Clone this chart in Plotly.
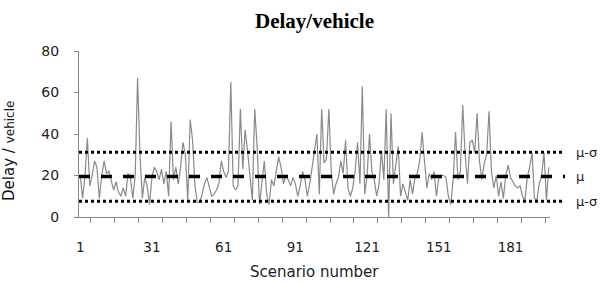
import plotly.graph_objects as go

# ---- data ----
delay = [
    20, 9, 20, 38, 15, 20, 27, 24, 9, 20,
    27, 21, 22, 18, 13, 17, 12, 10, 14, 10,
    21, 19, 9, 20, 67, 30, 9, 19, 15, 6,
    19, 24, 22, 18, 23, 16, 22, 10, 46, 18,
    24, 16, 24, 36, 30, 8, 47, 37, 15, 7,
    7, 11, 16, 19, 15, 10, 11, 13, 16, 27,
    22, 19, 22, 65, 15, 13, 15, 52, 23, 42,
    32, 20, 8, 52, 34, 6, 18, 27, 11, 6,
    18, 15, 22, 29, 24, 16, 20, 18, 15, 19,
    16, 10, 15, 22, 18, 10, 16, 24, 32, 40,
    11, 52, 26, 28, 52, 22, 11, 16, 19, 27,
    21, 37, 14, 10, 14, 22, 36, 16, 63, 11,
    20, 40, 22, 18, 10, 16, 32, 18, 52, 0,
    50, 16, 25, 34, 10, 16, 12, 8, 18, 11,
    19, 21, 27, 41, 27, 14, 21, 18, 22, 10,
    19, 20, 20, 19, 10, 6, 18, 41, 18, 22,
    54, 30, 16, 36, 37, 31, 50, 27, 18, 26,
    30, 51, 22, 14, 20, 10, 17, 9, 20, 25,
    19, 17, 15, 14, 15, 10, 8, 19, 24, 31,
    9, 8, 16, 20, 31, 8, 24,
]
scenario = list(range(1, len(delay) + 1))

mu = 19.5
upper = 31.2
lower = 7.6
ref_labels = ["μ-σ", "μ", "μ-σ"]
ref_values = [upper, mu, lower]
ref_dash = ["3px,3px", "11px,11px", "3px,3px"]

x_tick_vals = [1, 31, 61, 91, 121, 151, 181]
y_tick_vals = [0, 20, 40, 60, 80]

FONT = "DejaVu Sans"

# ---- figure ----
fig = go.Figure()
fig.add_trace(go.Scatter(
    x=scenario, y=delay, mode="lines",
    line=dict(color="#8a8a8a", width=1.2),
    hoverinfo="skip", showlegend=False,
))

for val, lab, dash in zip(ref_values, ref_labels, ref_dash):
    fig.add_shape(type="line", xref="paper", x0=0, x1=1.032,
                  yref="y", y0=val, y1=val,
                  line=dict(color="black", width=3.5 if lab == "μ" else 3, dash=dash))
    fig.add_annotation(xref="paper", x=1.05, yref="y", y=val,
                       text=lab, showarrow=False, xanchor="left", yanchor="middle",
                       font=dict(family=FONT, size=13, color="#222"))

# y-axis title
fig.add_annotation(
    xref="paper", x=-0.150, yref="paper", y=0.40,
    text="Delay / <span style='font-size:12px'>vehicle</span>",
    textangle=-90, showarrow=False, xanchor="center", yanchor="middle",
    font=dict(family=FONT, size=15, color="#111"),
)
# x-axis title
fig.add_annotation(
    xref="paper", x=0.5, yref="paper", y=-0.33,
    text="Scenario number", showarrow=False,
    xanchor="center", yanchor="middle",
    font=dict(family=FONT, size=15, color="#222"),
)

fig.update_layout(
    width=603, height=283,
    margin=dict(l=79, r=53, t=51, b=66),
    paper_bgcolor="white", plot_bgcolor="white",
    title=dict(text="<b>Delay/vehicle</b>", x=0.5, xref="paper",
               y=1 - 21 / 283, yref="container", yanchor="middle",
               font=dict(family="Liberation Serif", size=21, color="black")),
    font=dict(family=FONT, size=13, color="#222"),
)

fig.update_xaxes(
    range=[0.5, len(delay) + 0.5], tickvals=x_tick_vals,
    ticks="", showgrid=False, zeroline=False,
    showline=True, linecolor="#888", linewidth=1,
    minor=dict(tick0=5.5, dtick=10, ticks="outside", ticklen=5,
               tickcolor="#888", showgrid=False),
    ticklabelstandoff=18,
    tickfont=dict(size=13.5, color="#222"),
)
fig.update_yaxes(
    range=[0, 80], tickvals=y_tick_vals,
    ticks="outside", ticklen=4, tickcolor="#888",
    showgrid=False, zeroline=False,
    showline=True, linecolor="#888", linewidth=1,
    ticklabelstandoff=12,
    tickfont=dict(size=14, color="#222"),
)

fig.write_html("out.html", config={"displayModeBar": False},
               post_script="document.body.style.margin='0';")
